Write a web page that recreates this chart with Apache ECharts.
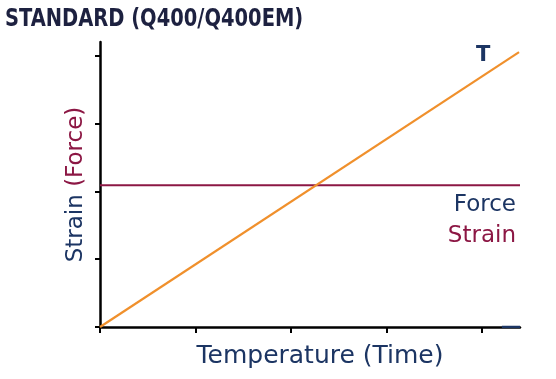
<!DOCTYPE html>
<html><head><meta charset="utf-8">
<script src="https://cdn.jsdelivr.net/npm/echarts@6/dist/echarts.min.js"></script>
<style>html,body{margin:0;padding:0;background:#fff}#c{width:556px;height:379px}</style>
</head><body><div id="c"></div>
<script>
// Data
var tempX = [0, 4.39];
var tempY = [0, 4.05];
var strainX = [0, 4.4];
var strainY = [2.09, 2.09];
var forceX = [4.21, 4.4];
var forceY = [0, 0];
var xTicks = [0, 1, 2, 3, 4];
var yTicks = [0, 1, 2, 3, 4];
var titleText = 'STANDARD (Q400/Q400EM)';
var xName = 'Temperature (Time)';
var seriesLabels = ['T', 'Force', 'Strain'];

var NAVY = '#1c3563', MAROON = '#8c1744', ORANGE = '#f0902c';
function pairs(xs, ys){ return xs.map(function(x,i){return [x, ys[i]];}); }

var chart = echarts.init(document.getElementById('c'));
chart.setOption({
  animation: false,
  backgroundColor: '#fff',
  grid: {left: 100, top: 42, right: 36, bottom: 52},
  xAxis: {type: 'value', min: 0, max: 4.4, interval: 1,
    name: xName, nameLocation: 'middle', nameGap: 17,
    nameTextStyle: {color: NAVY, fontSize: 25, fontFamily: 'DejaVu Sans', padding: [0, 0, 0, 20]},
    axisLine: {lineStyle: {color: '#000', width: 2.5}},
    axisTick: {show: true, length: 6, customValues: xTicks, lineStyle: {color: '#000', width: 2}},
    axisLabel: {show: false}, splitLine: {show: false}},
  yAxis: {type: 'value', min: 0, max: 4.2, interval: 1,
    name: '{a|Strain }{b|(Force)}', nameLocation: 'middle', nameGap: 12, nameRotate: 90,
    nameTextStyle: {rich: {
      a: {color: NAVY, fontSize: 23, fontFamily: 'DejaVu Sans'},
      b: {color: MAROON, fontSize: 23, fontFamily: 'DejaVu Sans'}}},
    axisLine: {show: true, lineStyle: {color: '#000', width: 2.5}},
    axisTick: {show: true, length: 5, customValues: yTicks, lineStyle: {color: '#000', width: 2}},
    axisLabel: {show: false}, splitLine: {show: false}},
  series: [
    {name: 'Strain', type: 'line', data: pairs(strainX, strainY), symbol: 'none',
      lineStyle: {color: MAROON, width: 2}},
    {name: 'T', type: 'line', data: pairs(tempX, tempY), symbol: 'none',
      lineStyle: {color: ORANGE, width: 2.2}},
    {name: 'Force', type: 'line', data: pairs(forceX, forceY), symbol: 'none',
      lineStyle: {color: NAVY, width: 2.5}}
  ],
  graphic: [
    {type: 'text', x: 5, y: 19, scaleX: 0.866, scaleY: 1, originX: 0, originY: 0,
      style: {text: titleText, fill: '#1d2140', fontSize: 25, fontWeight: 'bold',
        fontFamily: '"DejaVu Sans Condensed", "DejaVu Sans"', verticalAlign: 'middle'}},
    {type: 'text', left: 476, top: 45, style: {text: seriesLabels[0], fill: NAVY, fontSize: 21, fontWeight: 'bold', fontFamily: 'DejaVu Sans'}},
    {type: 'text', right: 40, top: 194, style: {text: seriesLabels[1], fill: NAVY, fontSize: 23, fontFamily: 'DejaVu Sans', textAlign: 'right'}},
    {type: 'text', right: 40, top: 225, style: {text: seriesLabels[2], fill: MAROON, fontSize: 23, fontFamily: 'DejaVu Sans', textAlign: 'right'}}
  ]
});
</script></body></html>
